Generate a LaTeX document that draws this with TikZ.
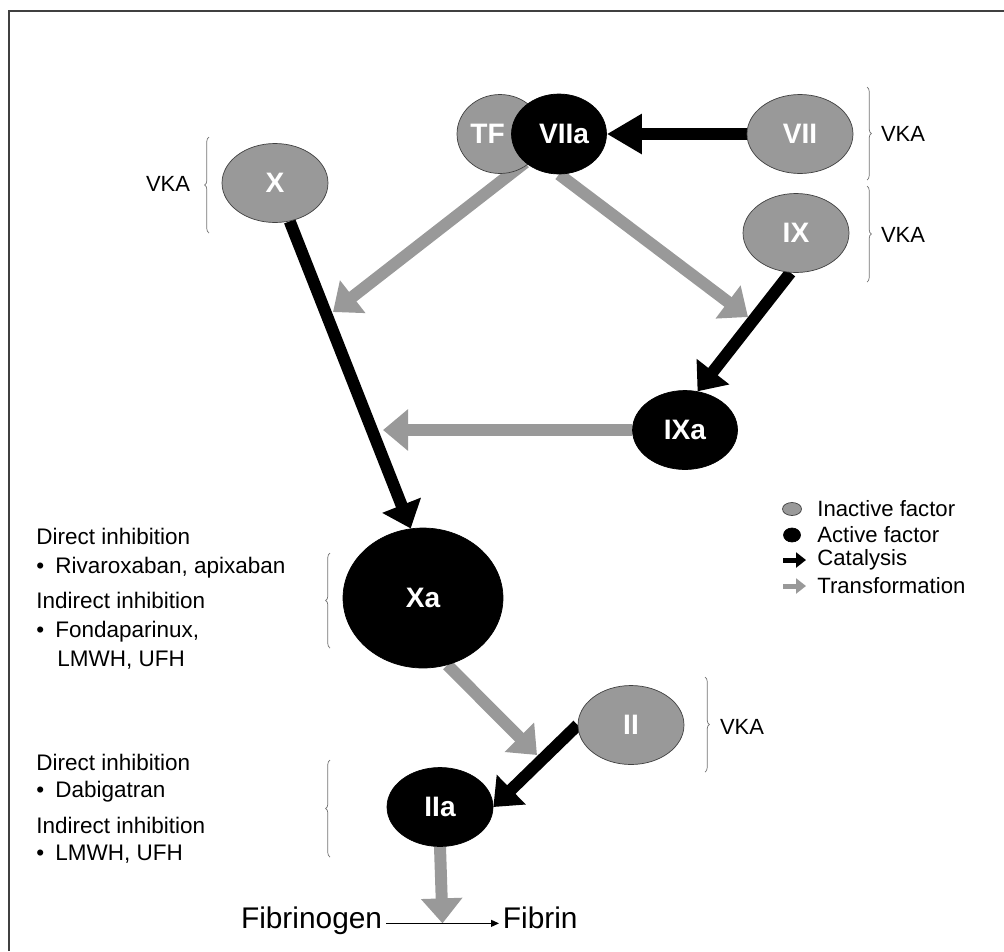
\documentclass[tikz,border=0pt]{standalone}
\usepackage{fontspec}
\setmainfont{Liberation Sans}
\usetikzlibrary{arrows.meta,shapes.geometric,decorations.pathreplacing,backgrounds,calc}
\definecolor{factorgray}{RGB}{153,153,153}
\definecolor{edgegray}{RGB}{64,64,64}
\tikzset{
  inactive/.style={ellipse, draw=edgegray, thin, fill=factorgray, text=white, inner sep=0pt,
              minimum width=2.12cm, minimum height=1.58cm, font=\fontsize{16}{18}\selectfont\bfseries},
  active/.style={inactive, draw=black, fill=black},
  catal/.style={-{Triangle[length=0.5cm,width=0.8cm]}, line width=0.24cm, black},
  transf/.style={catal, factorgray},
  vka/.style={font=\fontsize{12.5}{15}\selectfont, inner sep=1pt},
  bracket/.style={decorate, decoration={brace,amplitude=2.5pt}, draw=black!55, thin},
  notes/.style={font=\fontsize{12.8}{16.5}\selectfont, align=left, anchor=north west, inner sep=0pt},
  legend/.style={font=\fontsize{12.6}{15}\selectfont, anchor=west, inner sep=0pt},
  reaction/.style={font=\fontsize{17}{20}\selectfont, inner sep=2pt},
}
\begin{document}
\begin{tikzpicture}[x=0.02cm, y=-0.02cm]
  \useasboundingbox (0,0) rectangle (1004,951);
  \draw[edgegray, line width=1.1pt] (9,951) -- (9,11) -- (1004,11);
  % factors
  \node[inactive, minimum width=1.72cm] (tf) at (500,134) {TF\kern0.5cm};
  \node[active, minimum width=1.9cm, minimum height=1.6cm] (viia) at (559,134) {\kern0.2cm VIIa};
  \node[inactive] (vii) at (800,134) {VII};
  \node[inactive] (ix) at (796,233) {IX};
  \node[inactive] (x) at (275,183) {X};
  \node[active, minimum width=2.1cm] (ixa) at (685,430) {IXa};
  \node[active, minimum width=3.2cm, minimum height=2.8cm] (xa) at (423,598) {Xa};
  \node[inactive] (ii) at (631,725) {II};
  \node[active] (iia) at (440,807) {IIa};
  % vitamin K antagonists
  \node[vka] (vka7) at (903,134) {VKA};
  \node[vka] (vka9) at (903,235) {VKA};
  \node[vka] (vkax) at (168,184) {VKA};
  \node[vka] (vka2) at (742,727) {VKA};
  \draw[bracket] (867,87) -- (867,180);
  \draw[bracket] (867,186) -- (867,282);
  \draw[bracket] (209,233) -- (209,137);
  \draw[bracket] (705,677) -- (705,772);
  \draw[bracket] (330,648) -- (330,553);
  \draw[bracket] (330,857) -- (330,760);
  % inhibitors
  \node[notes] (xanote) at (36,528) {Direct inhibition\\ •\hspace{0.5em}Rivaroxaban, apixaban\\[3.5pt] Indirect inhibition\\ •\hspace{0.5em}Fondaparinux,\\ \hspace*{0.42cm}LMWH, UFH};
  \node[notes, font=\fontsize{12.8}{15.5}\selectfont] (iianote) at (36,754) {Direct inhibition\\ •\hspace{0.5em}Dabigatran\\[4.5pt] Indirect inhibition\\ •\hspace{0.5em}LMWH, UFH};
  % legend
  \node[inactive, minimum width=0.38cm, minimum height=0.26cm] (lgin) at (792,509) {};
  \node[active, minimum width=0.34cm, minimum height=0.28cm] (lgact) at (792,535) {};
  \coordinate (lgcs) at (783,560); \coordinate (lgce) at (806,560);
  \coordinate (lgts) at (783,586); \coordinate (lgte) at (806,586);
  \draw[-{Triangle[length=0.2cm,width=0.3cm]}, line width=0.1cm] (lgcs) -- (lgce);
  \draw[-{Triangle[length=0.2cm,width=0.3cm]}, line width=0.1cm, factorgray] (lgts) -- (lgte);
  \node[legend] (lgintx) at (817,509) {Inactive factor};
  \node[legend] (lgacttx) at (817,535) {Active factor};
  \node[legend] (lgcattx) at (817,560) {Catalysis};
  \node[legend] (lgtrtx) at (817,586) {Transformation};
  % fibrin formation
  \node[reaction, anchor=base east] (fibrinogen) at (386,928) {Fibrinogen};
  \node[reaction, anchor=base west] (fibrin) at (499,928) {Fibrin};
  \draw[-{Triangle[length=1.6mm,width=1.4mm]}, line width=0.7pt] (fibrinogen.mid east) -- (fibrin.mid west);
  \coordinate (fibmid) at ($(fibrinogen.mid east)!0.5!(fibrin.mid west)$);
  \coordinate (xhit) at (333,312);
  \coordinate (ixhit) at (748,317);
  \coordinate (xahit) at (383,430);
  \coordinate (iihit) at (537,755);
  \begin{scope}[on background layer]
    \draw[catal, -{Triangle[length=0.7cm,width=0.76cm]}] (vii.west) -- (viia.east);
    \draw[transf] (viia.south west) -- (xhit);
    \draw[transf] (viia.south) -- (ixhit);
    \draw[catal] (ix.-98) -- (ixa.72);
    \draw[transf] (ixa.west) -- (xahit);
    \draw[catal] (x.-69) -- (xa.100);
    \draw[transf] (xa.-70) -- (iihit);
    \draw[catal] (ii.west) -- (iia.east);
    \draw[transf] (iia.south) -- (fibmid);
  \end{scope}
\end{tikzpicture}
\end{document}
